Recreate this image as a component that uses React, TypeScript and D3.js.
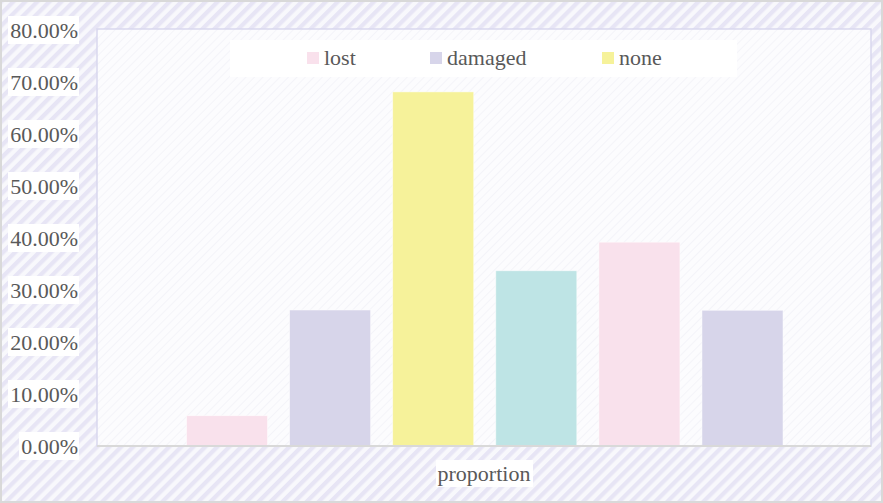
import React from "react";
import * as d3 from "d3";

// Series of the single "proportion" category
const seriesNames = ["lost", "damaged", "none", "s4", "s5", "s6"];
const seriesValues = [0.0583, 0.2615, 0.681, 0.337, 0.392, 0.261];
const seriesColors = ["#f9e1ec", "#d7d5ea", "#f6f29a", "#bee4e5", "#f9e1ec", "#d7d5ea"];
const legendNames = ["lost", "damaged", "none"];
const legendColors = ["#f9e1ec", "#d7d5ea", "#f6f29a"];
const yTicks = [0, 0.1, 0.2, 0.3, 0.4, 0.5, 0.6, 0.7, 0.8];
const categoryLabel = "proportion";

const W = 883;
const H = 503;
const plot = { left: 97, right: 871, top: 29, bottom: 446 };
const FONT = "'Liberation Serif', 'Times New Roman', serif";
const TEXT = "#595959";
const FS = 22;

export default function App() {
  const y = d3.scaleLinear().domain([0, 0.8]).range([plot.bottom, plot.top + 1]);
  const x = d3
    .scaleBand<number>()
    .domain(d3.range(seriesNames.length))
    .range([plot.left + 89.5, plot.right - 88])
    .paddingInner(0.214)
    .paddingOuter(0);
  const fmt = d3.format(".2%");

  const legendX = [307, 430, 602];

  return (
    <svg
      width={W}
      height={H}
      style={{ position: "absolute", left: 0, top: 0, display: "block" }}
    >
      <defs>
        <pattern
          id="stripes"
          width="8.5"
          height="8.5"
          patternUnits="userSpaceOnUse"
          patternTransform="rotate(45)"
        >
          <rect width="8.5" height="8.5" fill="#f8f8fc" />
          <rect width="4.2" height="8.5" fill="#e7e5f5" />
        </pattern>
        <pattern id="hatch" width="6" height="6" patternUnits="userSpaceOnUse" patternTransform="rotate(45)">
          <rect width="6" height="6" fill="#fcfcfe" />
          <rect width="1" height="6" fill="#f4f4f9" />
        </pattern>
      </defs>

      {/* outer background */}
      <rect x={1} y={1} width={W - 2} height={H - 2} fill="url(#stripes)" stroke="#d9d9d9" strokeWidth={2} />

      {/* plot area */}
      <rect
        x={plot.left}
        y={plot.top}
        width={plot.right - plot.left}
        height={plot.bottom - plot.top}
        fill="url(#hatch)"
        stroke="#d9d7ee"
        strokeWidth={1.5}
      />

      {/* legend box */}
      <rect x={230} y={40} width={507} height={37} fill="#ffffff" />
      {legendNames.map((name, i) => (
        <g key={name}>
          <rect x={legendX[i]} y={52} width={12} height={12} fill={legendColors[i]} />
          <text x={legendX[i] + 17} y={65} fontFamily={FONT} fontSize={FS} fill={TEXT}>
            {name}
          </text>
        </g>
      ))}

      {/* bars */}
      {seriesValues.map((v, i) => (
        <rect
          key={i}
          x={x(i)}
          y={y(v)}
          width={x.bandwidth()}
          height={y(0) - y(v)}
          fill={seriesColors[i]}
          stroke="#ffffff"
          strokeOpacity={0.6}
          strokeWidth={0.8}
        />
      ))}

      {/* x axis line */}
      <line x1={plot.left} x2={plot.right} y1={plot.bottom} y2={plot.bottom} stroke="#d9d9d9" strokeWidth={2} />

      {/* y tick labels */}
      {yTicks.map((t) => {
        const label = fmt(t);
        const w = label.length === 5 ? 60 : 71;
        return (
          <g key={t}>
            <rect x={79 - w} y={y(t) - 14} width={w} height={28} fill="#ffffff" />
            <text
              x={78}
              y={y(t) + 7.5}
              textAnchor="end"
              fontFamily={FONT}
              fontSize={FS}
              fill={TEXT}
            >
              {label}
            </text>
          </g>
        );
      })}

      {/* category label */}
      <rect x={436} y={460} width={97} height={27} fill="#ffffff" />
      <text
        x={(plot.left + plot.right) / 2}
        y={481}
        textAnchor="middle"
        fontFamily={FONT}
        fontSize={FS}
        fill={TEXT}
      >
        {categoryLabel}
      </text>
    </svg>
  );
}
